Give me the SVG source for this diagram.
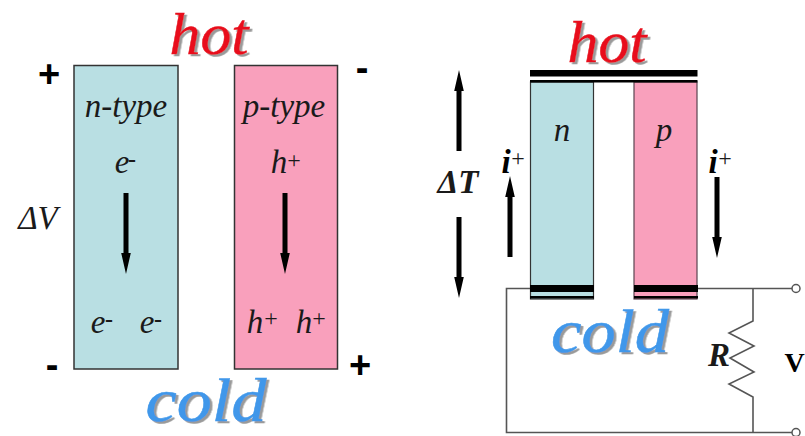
<svg xmlns="http://www.w3.org/2000/svg" width="805" height="436" viewBox="0 0 805 436">
<defs>
<filter id="shadow" x="-10%" y="-10%" width="120%" height="120%"><feDropShadow dx="2.500" dy="2" stdDeviation="0.400" flood-color="#9a9a9a"/></filter>
</defs>
<style>
text{font-family:"Liberation Serif","Times New Roman",serif;font-style:italic;fill:#1a1a1a;text-anchor:middle}
.b{stroke:#333;stroke-width:1.5}
.n{fill:#b9dfe3}
.p{fill:#f9a0bc}
.lab{font-size:33px}
.sup{font-size:24px;font-style:normal}
.min{font-size:24px;font-style:normal;font-weight:bold}
.pm{font-family:"Liberation Sans",Arial,sans-serif;font-style:normal;font-weight:bold;font-size:38px;fill:#000}
.hot{font-size:60px;fill:#e8101c;stroke:#e8101c;stroke-width:.5;filter:url(#shadow)}
.cold{font-size:62px;fill:#3f97ea;stroke:#3f97ea;stroke-width:.5;filter:url(#shadow)}
.bi{font-weight:bold;fill:#000}
.w{fill:none;stroke:#555;stroke-width:1.6}
.a{stroke:#000;stroke-width:5;fill:none}
.h{fill:#000}
</style>
<g id="left-hot"><text class="hot" x="209" y="54" textLength="79" lengthAdjust="spacingAndGlyphs">hot</text></g>
<g id="left-cold"><text class="cold" x="206" y="421" textLength="121" lengthAdjust="spacingAndGlyphs">cold</text></g>
<g id="n-type">
<rect class="n b" x="74" y="65.500" width="104" height="303.500"/>
<text class="lab" x="126" y="117">n-type</text>
<text class="lab" x="122" y="173">e</text><text class="min" x="132" y="167">-</text>
<text class="lab" x="98" y="333">e</text><text class="min" x="109" y="327">-</text>
<text class="lab" x="147" y="333">e</text><text class="min" x="158" y="327">-</text>
</g>
<g id="p-type">
<rect class="p b" x="234.500" y="65.500" width="103" height="303.500"/>
<text class="lab" x="284" y="117">p-type</text>
<text class="lab" x="279" y="173">h</text><text class="sup" x="294" y="168">+</text>
<text class="lab" x="255" y="333">h</text><text class="sup" x="271" y="326">+</text>
<text class="lab" x="304" y="333">h</text><text class="sup" x="319" y="326">+</text>
</g>
<g id="left-signs">
<text class="pm" x="49" y="87">+</text>
<text class="pm" x="362" y="81">-</text>
<text class="pm" x="52" y="378">-</text>
<text class="pm" x="360" y="378">+</text>
<text class="lab" x="38" y="229">ΔV</text>
</g>
<g id="left-arrows">
<path class="a" d="M126 193V256M285 193V256"/>
<path class="h" d="M121.200 253h9.600L126 274zM280.200 253h9.600L285 274z"/>
</g>
<g id="right-hot"><text class="hot" x="607" y="62" textLength="79" lengthAdjust="spacingAndGlyphs">hot</text></g>
<g id="right-cold"><text class="cold" x="610" y="352" textLength="118" lengthAdjust="spacingAndGlyphs">cold</text></g>
<g id="connectors">
<path class="w" d="M530 288.500H506.500V432.500H792M697 288.500H792M753 288.500V321L729 333L754 346L730 358L754 372L729 384L753 397V432.500"/>
<circle cx="796" cy="288.500" r="4" fill="#fff" stroke="#555" stroke-width="1.500"/>
<circle cx="796" cy="432.500" r="4" fill="#fff" stroke="#555" stroke-width="1.500"/>
</g>
<g id="n-leg">
<rect class="n" x="530.500" y="82" width="63" height="217" stroke="#333" stroke-width="1.200"/>
<rect x="530" y="285" width="64" height="7" fill="#000"/><rect x="530" y="296" width="64" height="2.500" fill="#000"/>
<text class="lab" x="562" y="141">n</text>
</g>
<g id="p-leg">
<rect class="p" x="634" y="82" width="63" height="217" stroke="#5a4450" stroke-width="1.200"/>
<rect x="634" y="285" width="64" height="7" fill="#000"/><rect x="634" y="296" width="64" height="2.500" fill="#000"/>
<text class="lab" x="664" y="141">p</text>
</g>
<g id="top-bar">
<rect x="530" y="70" width="167.500" height="6.500" fill="#000"/>
<rect x="530" y="80" width="167.500" height="2.500" fill="#000"/>
</g>
<g id="right-labels">
<text class="lab" x="458" y="193" font-weight="bold">ΔT</text>
<text class="lab bi" x="506" y="173">i</text><text class="sup" x="518" y="166">+</text>
<text class="lab bi" x="713" y="173">i</text><text class="sup" x="725" y="166">+</text>
<text class="lab" x="719" y="366" font-weight="bold">R</text>
<text x="794.500" y="372" style="font-size:28px;font-style:normal;font-weight:bold;fill:#000">V</text>
</g>
<g id="right-arrows">
<path class="a" d="M459 88V151M459 217V280M510 193V257M717 177V240"/>
<path class="h" d="M454.200 91h9.600L459 70zM454.200 277h9.600L459 298zM505.200 197h9.600L510 176zM712.200 237h9.600L717 258z"/>
</g>
</svg>
